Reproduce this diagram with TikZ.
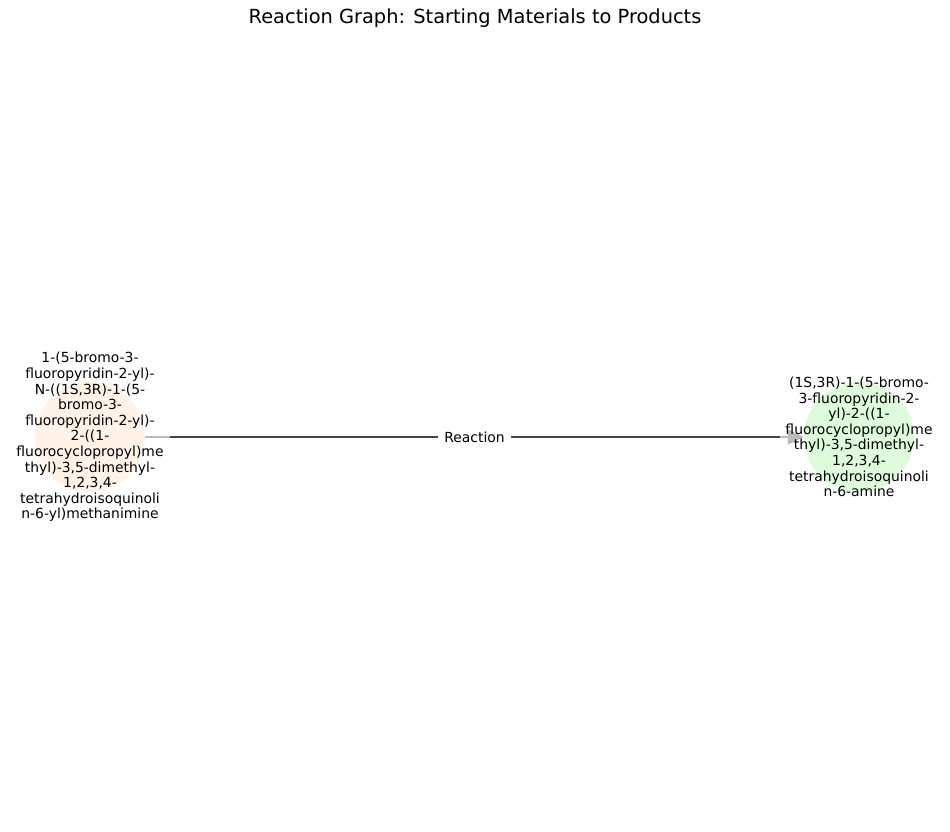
\documentclass[tikz,border=0pt]{standalone}
\usepackage{fontspec}
\setmainfont{DejaVu Sans}
\usetikzlibrary{arrows.meta}
\definecolor{startfill}{HTML}{FFF3E9}
\definecolor{prodfill}{HTML}{DEFCDC}
\definecolor{edgedark}{HTML}{444444}
\definecolor{edgelight}{HTML}{BBBBBB}
\begin{document}
\begin{tikzpicture}[x=1pt, y=-1pt,
	molecule/.style={circle, inner sep = 0, minimum size = 110},
	molname/.style={align=center, inner sep = 0, font=\fontsize{13.9}{15.6}\selectfont},
	lightedge/.style={edgelight, line width = 1.4, -{Triangle[length=16, width=15]}},
	darkedge/.style={edgedark, line width = 1.4}]
	\useasboundingbox (0,0) rectangle (950,832);
	\node (title) at (475,18) {\fontsize{19.4}{23}\selectfont Reaction Graph: Starting Materials to Products};
	\node (sm) [molecule, fill=startfill] at (90,437) {};
	\node (pr) [molecule, fill=prodfill] at (859,437) {};
	\node (smname) [molname] at (sm) {1-(5-bromo-3-\\fluoropyridin-2-yl)-\\N-((1S,3R)-1-(5-\\bromo-3-\\fluoropyridin-2-yl)-\\2-((1-\\fluorocyclopropyl)me\\thyl)-3,5-dimethyl-\\1,2,3,4-\\tetrahydroisoquinoli\\n-6-yl)methanimine};
	\draw[lightedge] (sm) -- (pr);
	\draw[darkedge, shorten <= 25, shorten >= 24] (sm) -- (pr)
		node (rxn) [midway, fill=white, text=black, inner sep = 6, font=\fontsize{13.9}{15.6}\selectfont] {Reaction};
	\node (prname) [molname] at (pr) {(1S,3R)-1-(5-bromo-\\3-fluoropyridin-2-\\yl)-2-((1-\\fluorocyclopropyl)me\\thyl)-3,5-dimethyl-\\1,2,3,4-\\tetrahydroisoquinoli\\n-6-amine};
\end{tikzpicture}
\end{document}
